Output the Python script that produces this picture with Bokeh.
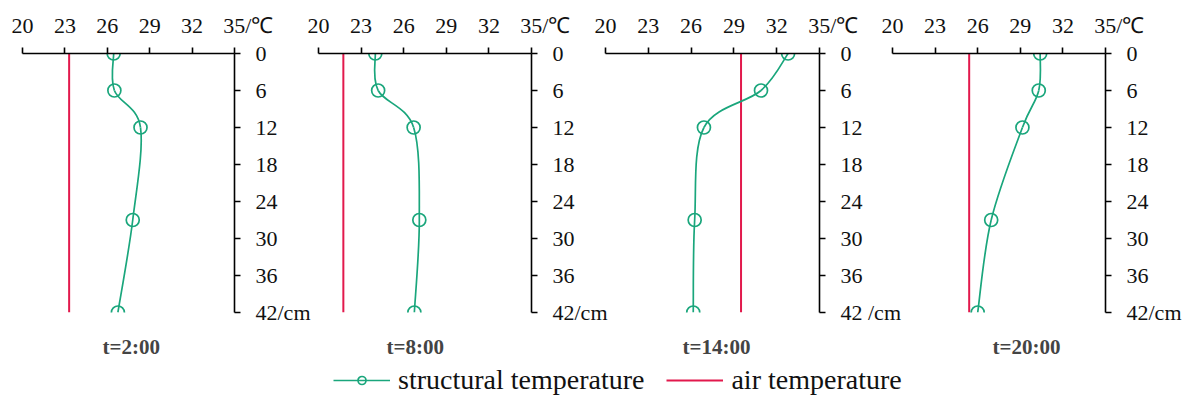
from bokeh.plotting import figure
from bokeh.models import Range1d, Legend, LegendItem, FixedTicker, Title
from bokeh.layouts import row, column
from bokeh.embed import file_html
from bokeh.resources import INLINE

# ---- data ----
temp_ticks = [20, 23, 26, 29, 32, 35]
depth_ticks = [0, 6, 12, 18, 24, 30, 36, 42]
depth = [0, 6, 12, 27, 42]
titles = ["t=2:00", "t=8:00", "t=14:00", "t=20:00"]
struct_0200 = [26.45, 26.5, 28.35, 27.8, 26.75]
struct_0800 = [24.0, 24.2, 26.7, 27.1, 26.75]
struct_1400 = [32.8, 30.9, 26.9, 26.25, 26.15]
struct_2000 = [30.4, 30.3, 29.15, 26.95, 26.0]
air_temp = [23.3, 21.75, 29.5, 25.4]
depth_unit = ["42/cm", "42/cm", "42 /cm", "42/cm"]
temp_unit = "\u00a0" * 5 + "35/℃"

GREEN = "#1aa67c"
RED = "#e2194c"
SERIF = "Liberation Serif"
H = 379          # panel row height
LEG_H = 60       # legend strip height
LEG_OVERLAP = H + LEG_H - 407


def catmull(xs, ys):
    n = len(xs)
    px = [xs[0]] + list(xs) + [xs[-1]]
    py = [ys[0]] + list(ys) + [ys[-1]]
    out = {k: [] for k in ("x0", "y0", "x1", "y1", "cx0", "cy0", "cx1", "cy1")}
    for i in range(n - 1):
        a, b, c, d = i, i + 1, i + 2, i + 3
        out["x0"].append(px[b]); out["y0"].append(py[b])
        out["x1"].append(px[c]); out["y1"].append(py[c])
        out["cx0"].append(px[b] + (px[c] - px[a]) / 6)
        out["cy0"].append(py[b] + (py[c] - py[a]) / 6)
        out["cx1"].append(px[c] - (px[d] - px[b]) / 6)
        out["cy1"].append(py[c] - (py[d] - py[b]) / 6)
    return out


def panel(k, struct, width, left, right, mleft, title_off):
    p = figure(width=width, height=H,
               x_range=Range1d(temp_ticks[0], temp_ticks[-1]),
               y_range=Range1d(depth_ticks[-1], depth_ticks[0]),
               x_axis_location="above", y_axis_location="right",
               output_backend="svg", toolbar_location=None,
               min_border_left=left, min_border_right=right,
               min_border_top=53, min_border_bottom=H - 312)
    p.margin = (0, 0, 0, mleft)
    p.border_fill_color = None
    p.background_fill_color = None
    p.outline_line_color = None
    p.grid.visible = False
    for ax, ticks in ((p.xaxis[0], temp_ticks), (p.yaxis[0], depth_ticks)):
        ax.ticker = FixedTicker(ticks=ticks)
        ax.major_tick_out = 6
        ax.major_tick_in = 0
        ax.minor_tick_out = 0
        ax.minor_tick_in = 0
        ax.axis_line_width = 1.6
        ax.major_tick_line_width = 1.6
        ax.axis_line_color = "black"
        ax.major_tick_line_color = "black"
        ax.major_label_text_font = SERIF
        ax.major_label_text_font_size = "22px"
        ax.major_label_text_color = "#111111"
    p.xaxis[0].major_label_standoff = 10
    p.xaxis[0].major_label_overrides = {temp_ticks[-1]: temp_unit}
    p.yaxis[0].major_label_standoff = 15
    p.yaxis[0].major_label_overrides = {depth_ticks[-1]: depth_unit[k]}

    # air temperature line
    p.line([air_temp[k], air_temp[k]], [depth[0], depth[-1]],
           line_color=RED, line_width=2)
    # structural temperature smooth curve + markers
    bz = catmull(struct, depth)
    p.bezier(source=bz, x0="x0", y0="y0", x1="x1", y1="y1",
             cx0="cx0", cy0="cy0", cx1="cx1", cy1="cy1",
             line_color=GREEN, line_width=1.7)
    p.scatter(struct, depth, marker="circle", size=13, fill_color=None,
              line_color=GREEN, line_width=1.7)

    t = Title(text=titles[k], align="left", offset=title_off, text_font=SERIF,
              text_font_size="21px", text_font_style="bold", standoff=41)
    p.add_layout(t, "below")
    return p


f1 = panel(0, struct_0200, 316, 22, 82, 0, 80)
f2 = panel(1, struct_0800, 320, 18, 89, -16, 68)
f3 = panel(2, struct_1400, 320, 15, 91, -30, 77)
f4 = panel(3, struct_2000, 323, 12, 98, -30, 100)

lf = figure(width=1203, height=LEG_H, x_range=Range1d(0, 1), y_range=Range1d(-1, 0),
            x_axis_type=None, y_axis_type=None, output_backend="svg",
            toolbar_location=None, min_border=0)
lf.margin = (-LEG_OVERLAP, 0, 0, 0)
lf.outline_line_color = None
lf.border_fill_color = None
lf.background_fill_color = None
# legend-only renderers (their data lie outside this strip's ranges)
r_line = lf.line(struct_0200, depth, line_color=GREEN, line_width=1.7)
r_mark = lf.scatter(struct_0200, depth, marker="circle", size=13, fill_color=None,
                    line_color=GREEN, line_width=1.7)
r_air = lf.line([air_temp[0], air_temp[0]], [depth[0], depth[-1]],
                line_color=RED, line_width=2)
legend = Legend(items=[LegendItem(label="structural temperature", renderers=[r_line, r_mark]),
                       LegendItem(label="air temperature", renderers=[r_air])],
                orientation="horizontal", location=(333, 11), glyph_width=57,
                label_standoff=8, spacing=22, padding=0, margin=0,
                border_line_color=None, background_fill_alpha=0,
                label_text_font=SERIF, label_text_font_size="28px",
                label_text_color="#111111")
lf.add_layout(legend)

layout = column(row(f1, f2, f3, f4, spacing=0), lf, spacing=0)
open("out.html", "w").write(file_html(layout, INLINE))
